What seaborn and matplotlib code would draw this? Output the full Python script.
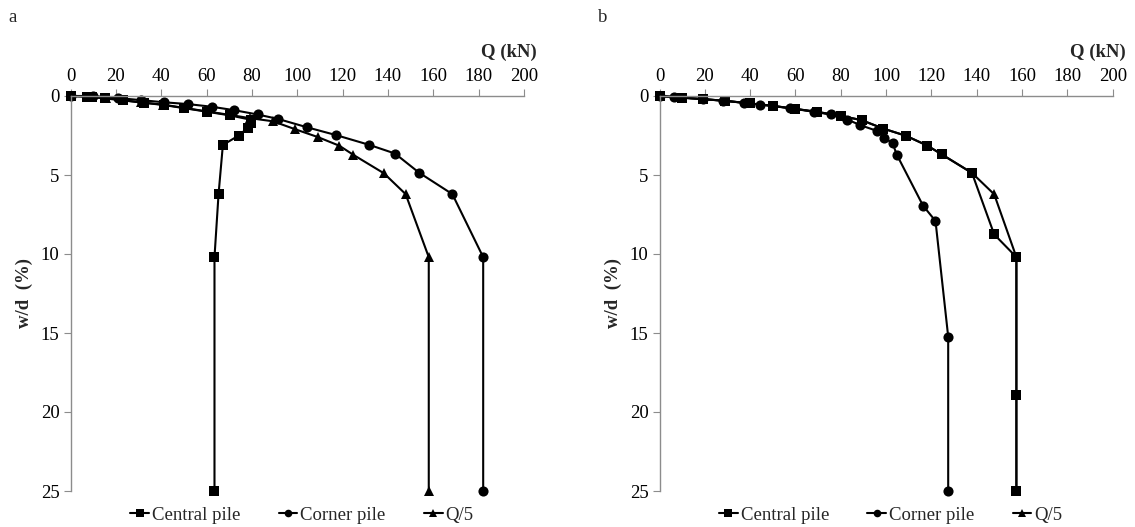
import numpy as np
import pandas as pd
import matplotlib
matplotlib.use("Agg")
import matplotlib.pyplot as plt
import seaborn as sns

# ---------------- data ----------------
series_names = ["Central pile", "Corner pile", "Q/5"]

# Panel a
a_central_Q = [0, 7.4, 9.3, 15, 23.2, 32.3, 41.1, 50.1, 60.4, 70.4, 79.4, 79.8, 78.3, 74.2, 67.2, 65.3, 63.5, 63.5]
a_central_w = [0, 0.04, 0.06, 0.15, 0.28, 0.43, 0.57, 0.77, 1.0, 1.23, 1.5, 1.7, 2.0, 2.5, 3.1, 6.2, 10.2, 25]
a_corner_Q = [0, 9.8, 20.9, 31.1, 41.4, 51.7, 62.3, 72.3, 82.5, 91.5, 104.3, 117, 131.7, 143.1, 153.7, 168.4, 182, 182]
a_corner_w = [0, 0, 0.13, 0.26, 0.4, 0.51, 0.68, 0.9, 1.17, 1.45, 1.98, 2.47, 3.09, 3.64, 4.85, 6.21, 10.2, 25]
a_q5_Q = [0, 8, 15.5, 31, 41, 50, 60.4, 70.4, 79, 89.3, 98.8, 109.1, 118.6, 124.7, 138.2, 147.8, 158, 158]
a_q5_w = [0, 0.05, 0.13, 0.4, 0.55, 0.75, 0.98, 1.2, 1.4, 1.6, 2.09, 2.6, 3.15, 3.72, 4.89, 6.21, 10.2, 25]

# Panel b
b_central_Q = [0, 10.1, 19.3, 28.8, 39.9, 49.9, 59.7, 69.3, 79.9, 89.2, 98.7, 108.8, 118.2, 124.5, 137.9, 147.7, 157.5, 157.5, 157.5]
b_central_w = [0, 0.11, 0.2, 0.3, 0.47, 0.62, 0.81, 1.0, 1.25, 1.53, 2.06, 2.52, 3.14, 3.69, 4.87, 8.76, 10.2, 18.9, 25]
b_corner_Q = [0, 6.2, 19.3, 28, 37.2, 44.3, 57.5, 68.1, 75.5, 82.9, 88.7, 95.8, 99.2, 102.9, 104.7, 116.3, 121.8, 127.4, 127.4]
b_corner_w = [0, 0.05, 0.2, 0.3, 0.43, 0.54, 0.77, 1.0, 1.17, 1.49, 1.85, 2.2, 2.63, 3.0, 3.71, 6.94, 7.91, 15.23, 25]
b_q5_Q = [0, 10, 19.3, 28.8, 39.9, 49.9, 59.7, 69.3, 79.9, 89.2, 98.7, 108.8, 118.2, 124.5, 137.9, 147.7, 157.5, 157.5]
b_q5_w = [0, 0.11, 0.2, 0.3, 0.47, 0.62, 0.81, 1.0, 1.25, 1.53, 2.06, 2.52, 3.14, 3.69, 4.87, 6.22, 10.2, 25]

x_ticks = [0, 20, 40, 60, 80, 100, 120, 140, 160, 180, 200]
y_ticks = [0, 5, 10, 15, 20, 25]
panel_labels = ["a", "b"]


def make_df(cQ, cw, kQ, kw, tQ, tw):
    frames = []
    for name, Q, w in zip(series_names, [cQ, kQ, tQ], [cw, kw, tw]):
        frames.append(pd.DataFrame({"Q": Q, "w": w, "series": name, "order": range(len(Q))}))
    return pd.concat(frames, ignore_index=True)


df_a = make_df(a_central_Q, a_central_w, a_corner_Q, a_corner_w, a_q5_Q, a_q5_w)
df_b = make_df(b_central_Q, b_central_w, b_corner_Q, b_corner_w, b_q5_Q, b_q5_w)

# ---------------- style ----------------
sns.set_style("white")
plt.rcParams["font.family"] = ["Liberation Serif", "DejaVu Serif"]
plt.rcParams["font.size"] = 13.5

W, H = 1135, 527
fig = plt.figure(figsize=(W / 100, H / 100), dpi=100)

# (data, axis left px, axis right px, panel label, panel label x px, ylabel right-edge x px)
panels = [
    (df_a, 70.5, 524.0, panel_labels[0], 8, 33),
    (df_b, 659.5, 1112.7, panel_labels[1], 598, 622),
]
top_px, bot_px = 96, 491

markers = {"Central pile": "s", "Corner pile": "o", "Q/5": "^"}
palette = {n: "black" for n in series_names}

for df, lpx, rpx, lab, labx, ylx in panels:
    ax = fig.add_axes([lpx / W, 1 - bot_px / H, (rpx - lpx) / W, (bot_px - top_px) / H])
    sns.lineplot(
        data=df, x="Q", y="w", hue="series", style="series",
        markers=markers, dashes=False, palette=palette,
        sort=False, estimator=None,
        linewidth=1.5, markersize=7.3, markeredgewidth=0,
        clip_on=False, ax=ax, legend=True,
    )
    ax.set_xlim(0, 200)
    ax.set_ylim(25, 0)
    ax.set_xticks(x_ticks)
    ax.set_yticks(y_ticks)
    ax.xaxis.tick_top()
    ax.set_xlabel("")
    ax.set_ylabel("w/d  (%)", fontweight="bold", fontsize=13.5)
    ax.yaxis.set_label_coords((ylx - lpx) / (rpx - lpx), 0.5)
    for s in ["right", "bottom"]:
        ax.spines[s].set_visible(False)
    for s in ["left", "top"]:
        ax.spines[s].set_color("#8c8c8c")
        ax.spines[s].set_linewidth(1.0)
    ax.tick_params(axis="both", which="both", direction="out", length=5, width=0.8,
                   color="#8c8c8c", labelsize=13.5, labelcolor="black", pad=3)
    ax.tick_params(axis="x", top=True, bottom=False, labeltop=True, labelbottom=False)
    ax.tick_params(axis="y", left=True, right=False)
    ax.text((537 - lpx) / (rpx - lpx) if lab == "a" else (1126 - lpx) / (rpx - lpx),
            1 + (96 - 52) / (bot_px - top_px), "Q (kN)",
            transform=ax.transAxes, ha="right", va="center", fontweight="bold", fontsize=13.5)
    fig.text(labx / W, 1 - 17 / H, lab, ha="left", va="center", fontsize=13.5)

    handles, labels = ax.get_legend_handles_labels()
    ax.get_legend().remove()
    leg = ax.legend(handles, labels, loc="center", bbox_to_anchor=(0.51, (bot_px - 515) / (bot_px - top_px)),
                    ncol=3, frameon=False, handlelength=1.0, handletextpad=0.15,
                    columnspacing=2.05, fontsize=13.5, markerscale=0.75)
    for line in leg.get_lines():
        line.set_linewidth(1.5)

fig.savefig("out.png", dpi=100)
